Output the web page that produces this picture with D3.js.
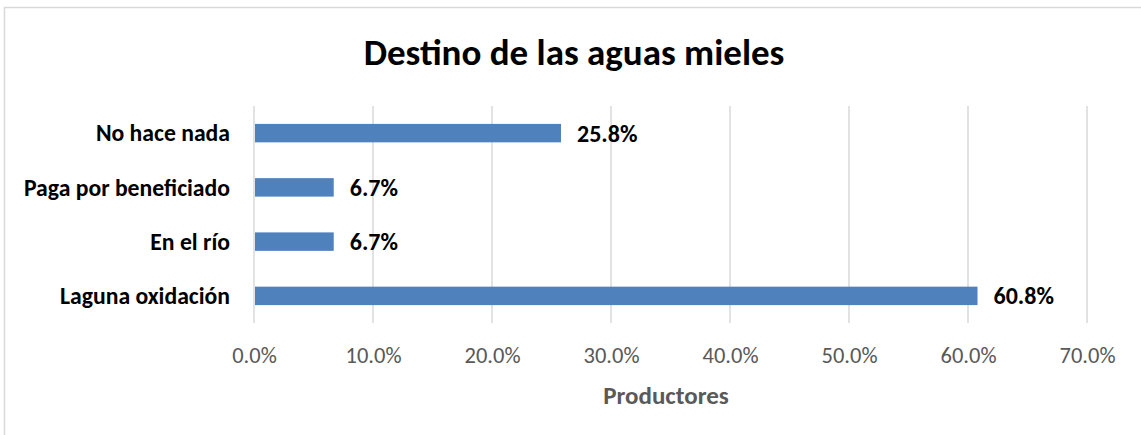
<!DOCTYPE html>
<html>
<head>
<meta charset="utf-8">
<script src="https://cdn.jsdelivr.net/npm/d3@7"></script>
<style>
  body { margin: 0; background: #fff; }
  svg text { font-family: Carlito, Calibri, Lato, sans-serif; }
</style>
</head>
<body>
<div id="chart"></div>
<script>
// Data
var categories = ["No hace nada", "Paga por beneficiado", "En el río", "Laguna oxidación"];
var values = [25.8, 6.7, 6.7, 60.8];
var tickValues = [0, 10, 20, 30, 40, 50, 60, 70];

var width = 1141;
var height = 435;
var plot = { left: 254, right: 1087, top: 106, bottom: 323 };

var svg = d3.select("#chart")
            .append("svg")
            .attr("width", width)
            .attr("height", height);

// Chart border (cropped on the right and bottom)
svg.append("rect")
   .attr("x", 4.5)
   .attr("y", 7.5)
   .attr("width", width + 10)
   .attr("height", height + 10)
   .attr("fill", "#fff")
   .attr("stroke", "#d9d9d9")
   .attr("stroke-width", 1.5);

var xScale = d3.scaleLinear()
               .domain([0, 70])
               .range([plot.left, plot.right]);

var yScale = d3.scaleBand()
               .domain(categories)
               .range([plot.top, plot.bottom])
               .paddingInner(0.66)
               .paddingOuter(0.33);

// Vertical gridlines
svg.append("g")
   .selectAll("line")
   .data(tickValues)
   .enter()
   .append("line")
   .attr("x1", function(d) { return xScale(d); })
   .attr("x2", function(d) { return xScale(d); })
   .attr("y1", plot.top)
   .attr("y2", plot.bottom)
   .attr("stroke", "#d9d9d9")
   .attr("stroke-width", 1.5);

// x axis tick labels
var xAxis = svg.append("g")
   .attr("transform", "translate(0," + plot.bottom + ")")
   .call(d3.axisBottom(xScale)
           .tickValues(tickValues)
           .tickSize(0)
           .tickPadding(24)
           .tickFormat(function(d) { return d.toFixed(1) + "%"; }));
xAxis.select(".domain").remove();
xAxis.selectAll("text")
     .attr("fill", "#595959")
     .style("font-size", "22.5px");

// Bars
svg.selectAll("rect.bar")
   .data(values)
   .enter()
   .append("rect")
   .attr("class", "bar")
   .attr("x", xScale(0) + 1)
   .attr("y", function(d, i) { return yScale(categories[i]); })
   .attr("width", function(d) { return xScale(d) - xScale(0) - 1; })
   .attr("height", yScale.bandwidth())
   .attr("fill", "#4f81bd");

// Data labels
svg.selectAll("text.value")
   .data(values)
   .enter()
   .append("text")
   .attr("class", "value")
   .attr("x", function(d) { return xScale(d) + 16; })
   .attr("y", function(d, i) { return yScale(categories[i]) + yScale.bandwidth() / 2; })
   .attr("dy", "0.35em")
   .attr("fill", "#000")
   .style("font-size", "24px")
   .style("font-weight", "bold")
   .text(function(d) { return d.toFixed(1) + "%"; });

// Category labels
svg.selectAll("text.cat")
   .data(categories)
   .enter()
   .append("text")
   .attr("class", "cat")
   .attr("x", 230)
   .attr("y", function(d) { return yScale(d) + yScale.bandwidth() / 2; })
   .attr("dy", "0.35em")
   .attr("text-anchor", "end")
   .attr("fill", "#000")
   .style("font-size", "23.7px")
   .style("font-weight", "bold")
   .text(function(d) { return d; });

// Title
svg.append("text")
   .attr("x", 574)
   .attr("y", 65)
   .attr("text-anchor", "middle")
   .attr("fill", "#000")
   .style("font-size", "37px")
   .style("font-weight", "bold")
   .text("Destino de las aguas mieles");

// Axis title
svg.append("text")
   .attr("x", 666)
   .attr("y", 404)
   .attr("text-anchor", "middle")
   .attr("fill", "#595959")
   .style("font-size", "25px")
   .style("font-weight", "bold")
   .text("Productores");
</script>
</body>
</html>
